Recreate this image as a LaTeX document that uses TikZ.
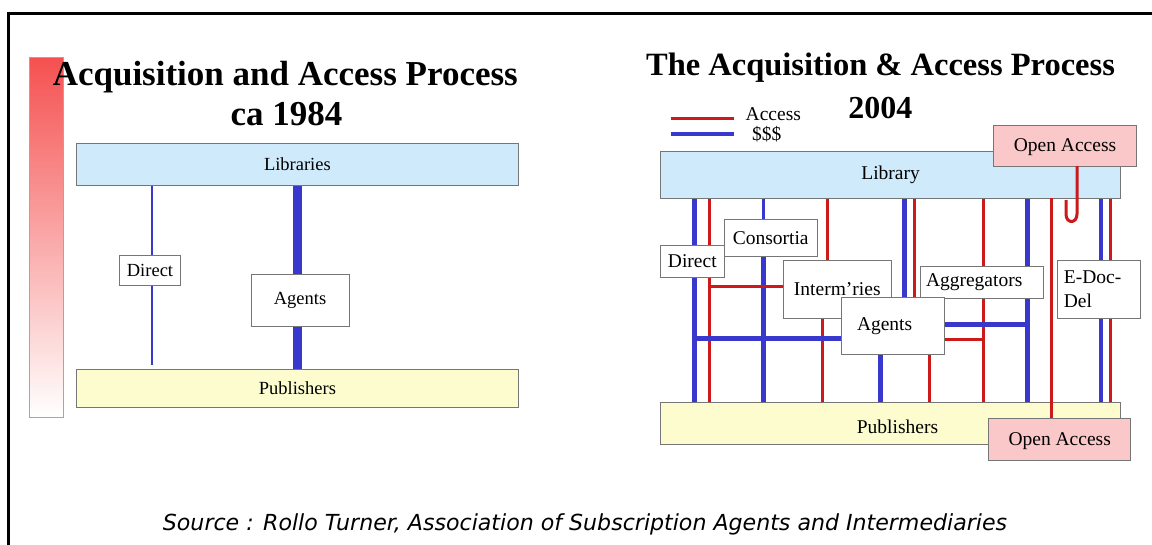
\documentclass[tikz,border=0pt]{standalone}
\usepackage{fontspec}
\setmainfont{Liberation Serif}
\newfontfamily\srcfont{DejaVu Sans}
\pgfdeclarelayer{bg}
\pgfsetlayers{bg,main}
\definecolor{libblue}{RGB}{207,234,250}
\definecolor{pubyellow}{RGB}{252,252,206}
\definecolor{oapink}{RGB}{250,200,200}
\definecolor{boxgray}{RGB}{118,118,118}
\definecolor{lred}{RGB}{204,26,26}
\definecolor{lblue}{RGB}{56,56,204}
\definecolor{barred}{RGB}{245,80,80}
\definecolor{barmid}{RGB}{251,200,200}
\begin{document}
\begin{tikzpicture}[x=1pt,y=-1pt,
  bigbox/.style={draw=boxgray,line width=0.9pt,inner sep=0pt,outer sep=0pt},
  lfont/.style={font=\fontsize{18.5}{22}\selectfont},
  rfont/.style={font=\fontsize{19.5}{24}\selectfont},
  redline/.style={draw=lred,line width=3pt},
  blueline/.style={draw=lblue,line width=5pt},
  ttl/.style={anchor=base,inner sep=0pt}]
\useasboundingbox (0,0) rectangle (1152,544);
\begin{pgfonlayer}{bg}
\fill[white] (0,0) rectangle (1152,544);
\end{pgfonlayer}
% frame
\draw[line width=3pt] (8,545) -- (8,13.5) -- (1153,13.5);
% gradient bar
\shade[top color=barred, middle color=barmid, bottom color=white, draw=gray!70, line width=0.8pt] (29.5,57) rectangle (63,417);
% titles
\node[ttl, font={\fontsize{35}{40}\selectfont\bfseries}] (t1a) at (285.3,85) {Acquisition and Access Process};
\node[ttl, font={\fontsize{35}{40}\selectfont\bfseries}] (t1b) at (286.5,125) {ca 1984};
\node[ttl, font={\fontsize{32.5}{38}\selectfont\bfseries}] (t2a) at (880.5,75) {The Acquisition \& Access Process};
\node[ttl, font={\fontsize{32}{38}\selectfont\bfseries}] (t2b) at (880.3,118) {2004};
% left diagram
\node[bigbox, fill=libblue, minimum width=442pt, minimum height=42pt, lfont] (lib1) at (297.4,164) {Libraries};
\node[bigbox, fill=pubyellow, minimum width=442pt, minimum height=38pt, lfont] (pub1) at (297.4,388.5) {Publishers};
\node[bigbox, fill=white, minimum width=61pt, minimum height=29.6pt, lfont] (dir1) at (150,270.5) {Direct};
\node[bigbox, fill=white, minimum width=98pt, minimum height=51.6pt, lfont] (ag1) at (300,300.5) {Agents};
\coordinate (d1end) at (152,364.7);
\coordinate (xd1) at (152,0);
\coordinate (xa1) at (297.6,0);
\begin{pgfonlayer}{bg}
\draw[lblue, line width=1.5pt] (lib1.south -| xd1) -- (d1end);
\draw[lblue, line width=9pt] (lib1.south -| xa1) -- (pub1.north -| xa1);
\end{pgfonlayer}
% right diagram
\node[bigbox, fill=libblue, minimum width=460.3pt, minimum height=46.6pt, rfont] (lib2) at (890.6,175) {Library};
\node[bigbox, fill=oapink, minimum width=142.5pt, minimum height=41pt, rfont, text height=16pt] (oa1) at (1065,145.5) {Open Access};
\node[bigbox, fill=pubyellow, minimum width=460.3pt, minimum height=42.3pt, rfont, text height=24pt, text depth=4pt, text width=95pt, align=right] (pub2) at (890.6,423.2) {Publishers};
\node[bigbox, fill=oapink, minimum width=142pt, minimum height=42.3pt, rfont, text height=16pt] (oa2) at (1059.7,439.2) {Open Access};
\node[bigbox, fill=white, minimum width=63.3pt, minimum height=32.3pt, rfont] (dir2) at (692.3,261.2) {Direct};
\node[bigbox, fill=white, minimum width=93.3pt, minimum height=36.7pt, rfont] (con) at (770.7,237.7) {Consortia};
\node[bigbox, fill=white, minimum width=108pt, minimum height=57.8pt, rfont] (int) at (837.3,289.6) {Interm’ries};
\node[bigbox, fill=white, minimum width=122.6pt, minimum height=32pt, rfont, text width=112pt, align=left] (agg) at (982,282) {Aggregators};
\node[bigbox, fill=white, minimum width=103pt, minimum height=57.2pt, rfont, text width=72pt, align=left] (ag2) at (893,326) {Agents};
\node[bigbox, fill=white, minimum width=83.7pt, minimum height=58.3pt, rfont, text width=70pt, align=left] (edd) at (1098.9,289.2) {E-Doc-\\Del};
% x positions of the vertical connectors
\coordinate (xA) at (694.7,0);
\coordinate (xB) at (709.4,0);
\coordinate (xC) at (763.4,0);
\coordinate (xD) at (827,0);
\coordinate (xE) at (822.2,0);
\coordinate (xF) at (880.2,0);
\coordinate (xG) at (904.8,0);
\coordinate (xH) at (914,0);
\coordinate (xI) at (929.8,0);
\coordinate (xJ) at (983,0);
\coordinate (xK) at (1027,0);
\coordinate (xL) at (1051.7,0);
\coordinate (xM) at (1077,0);
\coordinate (xN) at (1100.6,0);
\coordinate (xO) at (1110.5,0);
\coordinate (yR1) at (0,286.7);
\coordinate (yB1) at (0,338.5);
\coordinate (yB2) at (0,324);
\coordinate (yR2) at (0,339.3);
\begin{pgfonlayer}{bg}
\draw[blueline] (lib2.south -| xA) -- (pub2.north -| xA);
\draw[redline] (lib2.south -| xB) -- (pub2.north -| xB);
\draw[blueline, line width=3pt] (lib2.south -| xC) -- (con.north -| xC);
\draw[blueline] (con.south -| xC) -- (pub2.north -| xC);
\draw[redline] (lib2.south -| xD) -- (int.north -| xD);
\draw[redline] (int.south -| xE) -- (pub2.north -| xE);
\draw[blueline] (ag2.south -| xF) -- (pub2.north -| xF);
\draw[blueline] (lib2.south -| xG) -- (ag2.north -| xG);
\draw[redline] (lib2.south -| xH) -- (ag2.north -| xH);
\draw[redline] (ag2.south -| xI) -- (pub2.north -| xI);
\draw[redline] (lib2.south -| xJ) -- (pub2.north -| xJ);
\draw[blueline] (lib2.south -| xK) -- (pub2.north -| xK);
\draw[blueline, line width=4pt] (lib2.south -| xN) -- (pub2.north -| xN);
\draw[redline] (lib2.south -| xO) -- (pub2.north -| xO);
\draw[redline] (xB |- yR1) -- (int.west |- yR1);
\draw[blueline] (xA |- yB1) -- (ag2.west |- yB1);
\draw[blueline] (ag2.east |- yB2) -- (xK |- yB2);
\draw[redline] (ag2.east |- yR2) -- (xJ |- yR2);
\end{pgfonlayer}
\draw[redline] (lib2.south -| xL) -- (oa2.north -| xL);
\coordinate (loopend) at (1066,200);
\draw[redline] (oa1.south -| xM) -- (1077,214) .. controls (1077,224) and (1066,224) .. (1066,214) -- (loopend);
% legend
\coordinate (lg1) at (670.5,118.3);
\coordinate (lg2) at (733.5,118.3);
\coordinate (lg3) at (670.5,133.8);
\coordinate (lg4) at (733.5,133.8);
\draw[lred, line width=3.5pt] (lg1) -- (lg2);
\draw[lblue, line width=3.5pt] (lg3) -- (lg4);
\node[rfont, anchor=base west, inner sep=0pt] (legA) at (745.5,120.7) {Access};
\node[rfont, anchor=base west, inner sep=0pt] (legS) at (752,140) {\$\$\$};
% source
\node[ttl, font={\srcfont\itshape\fontsize{22.1}{26}\selectfont}] (src) at (585,530) {Source : Rollo Turner, Association of Subscription Agents and Intermediaries};
\end{tikzpicture}
\end{document}
